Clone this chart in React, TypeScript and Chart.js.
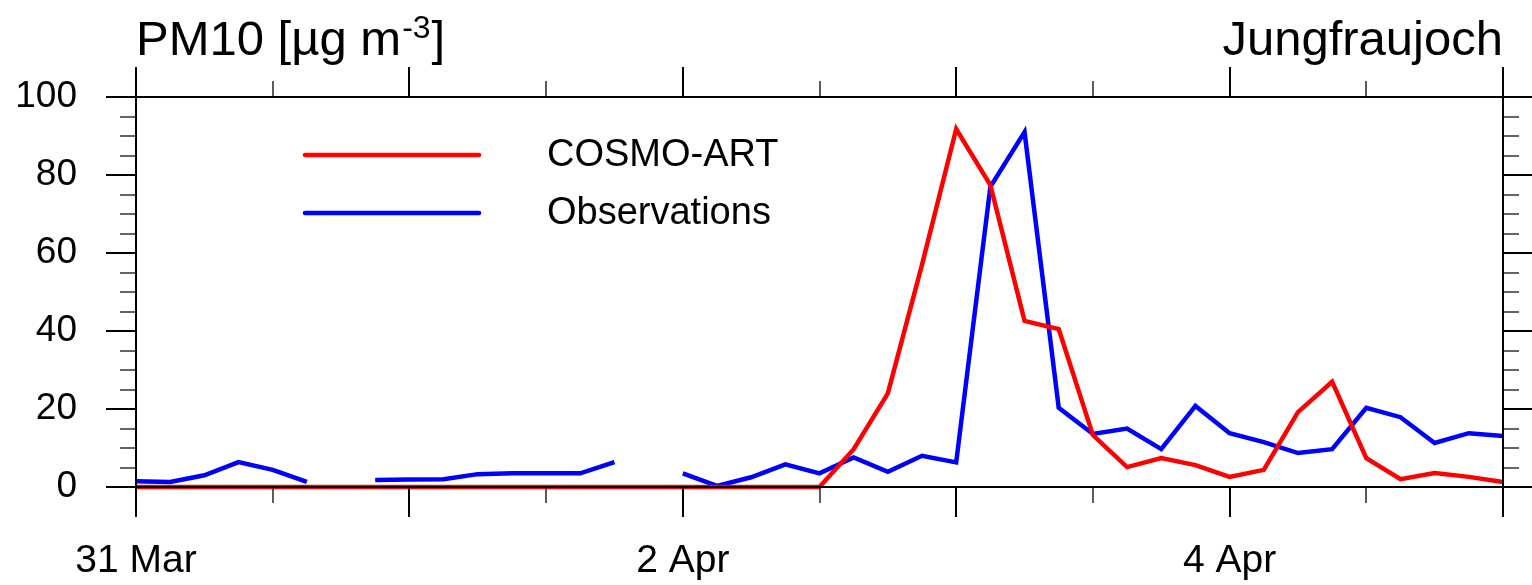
import React, { useEffect, useRef } from 'react';
import { Chart, registerables } from 'chart.js';

Chart.register(...registerables);

// Time axis: hours since 31 Mar 00 UTC, 3-hourly
const hours = [
  0, 3, 6, 9, 12, 15, 18, 21, 24, 27, 30, 33, 36, 39, 42, 45, 48, 51, 54, 57,
  60, 63, 66, 69, 72, 75, 78, 81, 84, 87, 90, 93, 96, 99, 102, 105, 108, 111,
  114, 117, 120,
];

const cosmoArt = [
  0, 0, 0, 0, 0, 0, 0, 0, 0, 0, 0, 0, 0, 0, 0, 0, 0, 0, 0, 0,
  0, 9.7, 24, 57, 91.8, 77.4, 42.6, 40.5, 13.3, 5.1, 7.4, 5.6, 2.6, 4.4, 19.2,
  27, 7.4, 2, 3.6, 2.6, 1.3,
];

const observations = [
  1.5, 1.3, 3, 6.4, 4.4, 1.3, null, 1.8, 1.9, 2.0, 3.3, 3.5, 3.5, 3.5, 6.4,
  null, 3.5, 0.3, 2.5, 5.8, 3.5, 7.6, 3.9, 8.0, 6.3, 77, 91, 20.3, 13.6, 15,
  9.7, 20.8, 13.8, 11.5, 8.7, 9.7, 20.3, 17.9, 11.3, 13.8, 13.1,
];

const seriesNames = ['COSMO-ART', 'Observations'];
const seriesColors = ['#ff0000', '#0000ff'];

const xTickHours = [0, 48, 96];
const xTickLabels = ['31 Mar', '2 Apr', '4 Apr'];
const yTickValues = [0, 20, 40, 60, 80, 100];

const titleLeft = 'PM10 [\u00b5g m';
const titleLeftSup = '-3';
const titleLeftEnd = ']';
const titleRight = 'Jungfraujoch';

const FONT = '"Liberation Sans", Arial, Helvetica, sans-serif';

const framePlugin = {
  id: 'frame',
  afterDatasetsDraw(chart: any) {
    const { ctx, chartArea, scales } = chart;
    const { left, right, top, bottom } = chartArea;
    const xs = scales.x;
    const ys = scales.y;
    ctx.save();
    ctx.lineCap = 'butt';
    // x ticks (every 12 h, major every 24 h), outward on bottom and top
    for (let h = xs.min; h <= xs.max + 0.001; h += 12) {
      const px = Math.round(xs.getPixelForValue(h));
      const major = h % 24 === 0;
      const len = major ? 30 : 16;
      ctx.strokeStyle = major ? '#000' : '#333';
      ctx.lineWidth = major ? 2 : 1.6;
      ctx.beginPath();
      ctx.moveTo(px, bottom);
      ctx.lineTo(px, bottom + len);
      ctx.moveTo(px, top);
      ctx.lineTo(px, top - len);
      ctx.stroke();
    }
    // y ticks (every 5, major every 20), outward on left and right
    for (let v = ys.min; v <= ys.max + 0.001; v += 5) {
      const py = Math.round(ys.getPixelForValue(v));
      const major = v % 20 === 0;
      const len = major ? 30 : 16;
      ctx.strokeStyle = major ? '#000' : '#333';
      ctx.lineWidth = major ? 2 : 1.6;
      ctx.beginPath();
      ctx.moveTo(left, py);
      ctx.lineTo(left - len, py);
      ctx.moveTo(right, py);
      ctx.lineTo(right + len, py);
      ctx.stroke();
    }
    ctx.strokeStyle = '#000';
    ctx.lineWidth = 2;
    ctx.strokeRect(left, top, right - left, bottom - top);
    ctx.restore();
  },
  afterDraw(chart: any) {
    const { ctx, chartArea } = chart;
    const { left, right, top } = chartArea;
    ctx.save();
    ctx.fillStyle = '#000';
    ctx.textBaseline = 'alphabetic';
    // titles
    const base = top - 42;
    ctx.font = `49px ${FONT}`;
    ctx.textAlign = 'left';
    ctx.fillText(titleLeft, left, base);
    let x = left + ctx.measureText(titleLeft).width;
    ctx.font = `32px ${FONT}`;
    ctx.fillText(titleLeftSup, x + 1, base - 17);
    x += ctx.measureText(titleLeftSup).width + 2;
    ctx.font = `49px ${FONT}`;
    ctx.fillText(titleLeftEnd, x, base);
    ctx.textAlign = 'right';
    ctx.fillText(titleRight, right, base);

    // legend
    const rows = [155, 213];
    chart.data.datasets.forEach((ds: any, i: number) => {
      const y = top + (rows[i] - 97);
      ctx.strokeStyle = ds.borderColor;
      ctx.lineWidth = 4.5;
      ctx.lineCap = 'round';
      ctx.beginPath();
      ctx.moveTo(left + 169, y);
      ctx.lineTo(left + 343, y);
      ctx.stroke();
      ctx.font = `38px ${FONT}`;
      ctx.textAlign = 'left';
      ctx.fillText(ds.label, left + 411, y + 11);
    });
    ctx.restore();
  },
};

export default function App() {
  const ref = useRef<HTMLCanvasElement | null>(null);

  useEffect(() => {
    document.body.style.margin = '0';
    const canvas = ref.current;
    if (!canvas) return;
    const chart = new Chart(canvas, {
      type: 'line',
      data: {
        datasets: [
          {
            label: seriesNames[0],
            data: hours.map((h, i) => ({ x: h, y: cosmoArt[i] })),
            borderColor: seriesColors[0],
            backgroundColor: seriesColors[0],
            borderWidth: 4.5,
            pointRadius: 0,
            tension: 0,
            clip: false as any,
          },
          {
            label: seriesNames[1],
            data: hours.map((h, i) => ({ x: h, y: observations[i] })),
            borderColor: seriesColors[1],
            backgroundColor: seriesColors[1],
            borderWidth: 4.5,
            pointRadius: 0,
            tension: 0,
            spanGaps: false,
            clip: false as any,
          },
        ],
      },
      options: {
        animation: false,
        responsive: false,
        events: [],
        layout: { padding: { top: 97, right: 29, left: 0, bottom: 0 } },
        plugins: {
          legend: { display: false },
          tooltip: { enabled: false },
          title: { display: false },
        },
        scales: {
          x: {
            type: 'linear',
            min: hours[0],
            max: hours[hours.length - 1],
            grid: { display: false, drawTicks: false },
            border: { display: false },
            afterBuildTicks: (scale: any) => {
              scale.ticks = xTickHours.map((v) => ({ value: v }));
            },
            afterFit: (scale: any) => {
              scale.height = 98;
            },
            ticks: {
              autoSkip: false,
              maxRotation: 0,
              padding: 51,
              color: '#000',
              font: { family: FONT, size: 39 },
              callback: (v: any) => {
                const i = xTickHours.indexOf(Number(v));
                return i >= 0 ? xTickLabels[i] : '';
              },
            },
          },
          y: {
            type: 'linear',
            min: yTickValues[0],
            max: yTickValues[yTickValues.length - 1],
            grid: { display: false, drawTicks: false },
            border: { display: false },
            afterBuildTicks: (scale: any) => {
              scale.ticks = yTickValues.map((v) => ({ value: v }));
            },
            afterFit: (scale: any) => {
              scale.width = 136;
            },
            ticks: {
              padding: 59,
              color: '#000',
              font: { family: FONT, size: 37 },
            },
          },
        },
      },
      plugins: [framePlugin],
    } as any);
    return () => chart.destroy();
  }, []);

  return (
    <div style={{ width: 1532, height: 585, position: 'relative' }}>
      <canvas ref={ref} width={1532} height={585} style={{ display: 'block' }} />
    </div>
  );
}
